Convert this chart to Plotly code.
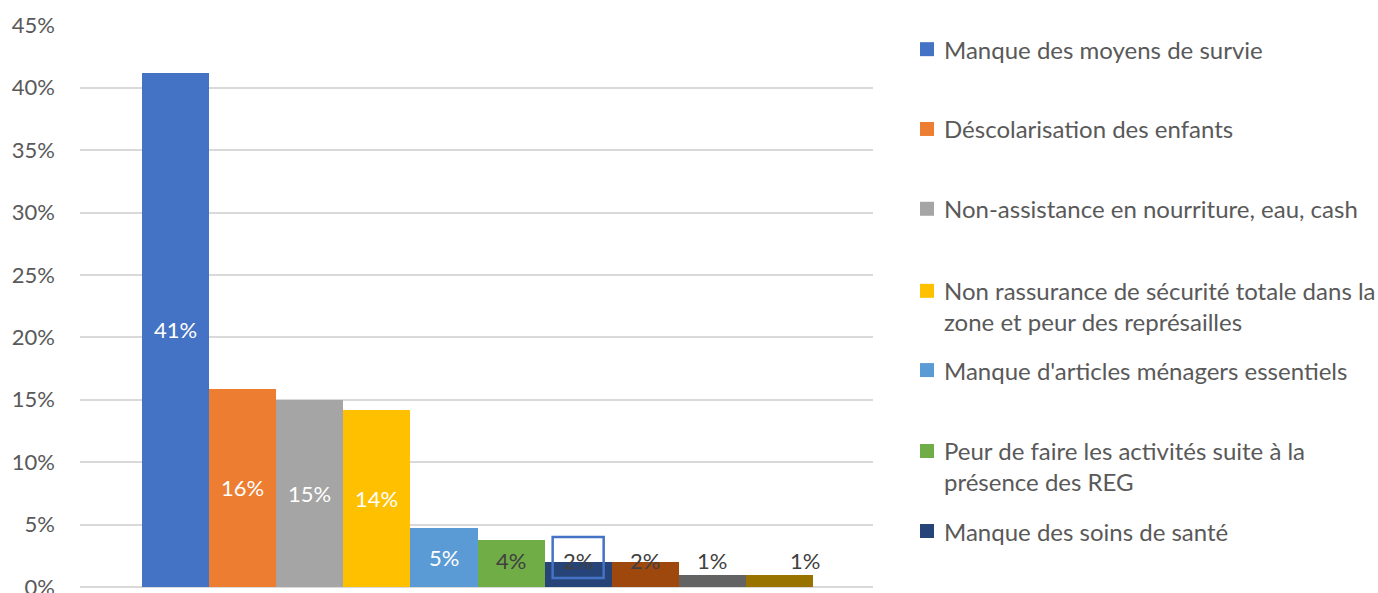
import plotly.graph_objects as go

# Data
categories = [
    "Manque des moyens de survie",
    "Déscolarisation des enfants",
    "Non-assistance en nourriture, eau, cash",
    "Non rassurance de sécurité totale dans la<br>zone et peur des représailles",
    "Manque d'articles ménagers essentiels",
    "Peur de faire les activités suite à la<br>présence des REG",
    "Manque des soins de santé",
    "Catégorie 8",
    "Catégorie 9",
    "Catégorie 10",
]
values = [0.412, 0.159, 0.150, 0.142, 0.047, 0.038, 0.020, 0.020, 0.010, 0.010]
labels = ["41%", "16%", "15%", "14%", "5%", "4%", "2%", "2%", "1%", "1%"]
colors = ["#4472C4", "#ED7D31", "#A5A5A5", "#FFC000", "#5B9BD5",
          "#70AD47", "#264478", "#9E480E", "#636363", "#997300"]
label_colors = ["white", "white", "white", "white", "white",
                "#404040", "#404040", "#404040", "#404040", "#404040"]
label_xshift = [0, 0, 0, 0, 0, 0, 0, 0, 0, 26]

FONT = "Lato, Carlito, Calibri, sans-serif"
TEXT = "#595959"

fig = go.Figure()

for i, (cat, val, col) in enumerate(zip(categories, values, colors)):
    fig.add_trace(go.Bar(
        x=[i],
        y=[val],
        width=1.0,
        name=cat,
        marker=dict(color=col, line=dict(width=0)),
        showlegend=False,
        hoverinfo="skip",
    ))
    fig.add_annotation(
        x=i, y=max(val / 2, 0.0216), xshift=label_xshift[i],
        text=labels[i], showarrow=False,
        font=dict(family=FONT, size=22, color=label_colors[i]),
    )

# Selection box around the 7th label (as in the screenshot)
fig.add_shape(
    type="rect", xref="x", yref="y",
    x0=6 - 0.38, x1=6 + 0.38, y0=0.0072, y1=0.040,
    line=dict(color="#4472C4", width=2.5),
)

# Hand-placed legend (Excel-style spacing), first 7 entries visible
legend_y = [0.957, 0.815, 0.673, 0.5, 0.386, 0.215, 0.0996]
square_y = [0.957, 0.815, 0.673, 0.527, 0.386, 0.242, 0.0996]
px = 1 / 793.0
py = 1 / 562.0
for cat, col, ly, sy in zip(categories[:7], colors[:7], legend_y, square_y):
    fig.add_annotation(
        xref="paper", yref="paper",
        x=(942 - 80) * px, y=ly,
        xanchor="left", yanchor="middle", align="left",
        text=cat, showarrow=False,
        font=dict(family=FONT, size=24, color=TEXT),
    )
    fig.add_shape(
        type="rect", xref="paper", yref="paper",
        x0=(920 - 80) * px, x1=(934 - 80) * px,
        y0=sy - 7 * py, y1=sy + 7 * py,
        fillcolor=col, line=dict(width=0),
    )

fig.update_layout(
    width=1378,
    height=593,
    paper_bgcolor="white",
    plot_bgcolor="white",
    margin=dict(l=80, r=505, t=25, b=6, autoexpand=False),
    bargap=0,
    showlegend=False,
    font=dict(family=FONT, size=22, color=TEXT),
    xaxis=dict(
        range=[-1.424, 10.394],
        showticklabels=False,
        showgrid=False,
        zeroline=False,
        fixedrange=True,
    ),
    yaxis=dict(
        range=[0, 0.4502],
        dtick=0.05,
        tickformat=".0%",
        showgrid=True,
        gridcolor="#D9D9D9",
        gridwidth=2,
        zeroline=True,
        zerolinecolor="#D9D9D9",
        zerolinewidth=2,
        ticks="",
        ticklabelstandoff=24,
        ticklabeloverflow="allow",
        tickfont=dict(family=FONT, size=22, color=TEXT),
    ),
)

fig.write_html(
    "out.html",
    config={"displayModeBar": False},
    post_script="document.body.style.margin='0';document.body.style.overflow='hidden';",
)
